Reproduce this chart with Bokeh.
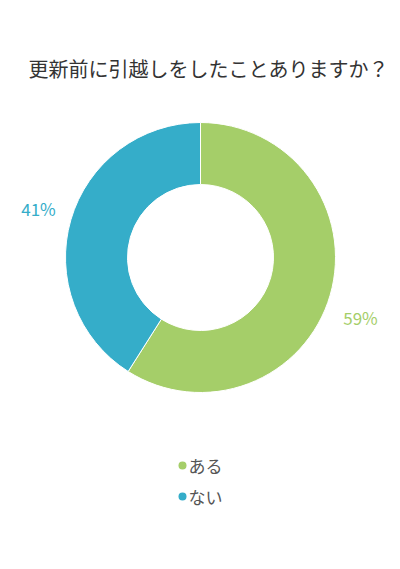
import math
from bokeh.plotting import figure
from bokeh.models import Range1d, ColumnDataSource
from bokeh.core.properties import value
from bokeh.embed import file_html
from bokeh.resources import INLINE

title = "更新前に引越しをしたことありますか？"
categories = ["ある", "ない"]
percents = [59, 41]
colors = ["#A5CE69", "#35ADC9"]

W, H = 396, 553
FONT = "Noto Sans CJK JP"

p = figure(width=W, height=H, output_backend="svg", toolbar_location=None,
           x_range=Range1d(0, W), y_range=Range1d(0, H), min_border=0)
p.axis.visible = False
p.grid.visible = False
p.outline_line_color = None
p.background_fill_color = "white"

cx, cy = 200, 296
outer_r, inner_r = 135, 73

total = sum(percents)
starts, ends = [], []
cum = 0
for v in percents:
    a0 = math.pi / 2 - 2 * math.pi * cum / total
    a1 = math.pi / 2 - 2 * math.pi * (cum + v) / total
    starts.append(a1)
    ends.append(a0)
    cum += v

src = ColumnDataSource(dict(x=[cx] * len(percents), y=[cy] * len(percents),
                            start=starts, end=ends, color=colors))
p.annular_wedge(x="x", y="y", inner_radius=inner_r, outer_radius=outer_r,
                start_angle="start", end_angle="end", fill_color="color",
                line_color="white", line_width=1, source=src)

# percentage labels (offset placement near each slice)
label_offsets = [(160, -60), (-162, 49)]
lx = [cx + dx for dx, dy in label_offsets]
ly = [cy + dy for dx, dy in label_offsets]
p.text(x=lx, y=ly, text=[f"{v}%" for v in percents], text_color=colors,
       text_font=value(FONT), text_font_size="17px",
       text_align="center", text_baseline="middle")

# title
p.text(x=[208], y=[485], text=[title], text_color="#333333",
       text_font=value(FONT), text_font_size="20px",
       text_align="center", text_baseline="middle")

# legend
leg_y = [88, 57]
p.scatter(x=[182] * len(categories), y=leg_y, size=8, fill_color=colors,
          line_color=None)
p.text(x=[188] * len(categories), y=leg_y, text=categories, text_color="#555555",
       text_font=value(FONT), text_font_size="17px",
       text_align="left", text_baseline="middle")

open("out.html", "w").write(file_html(p, INLINE))
